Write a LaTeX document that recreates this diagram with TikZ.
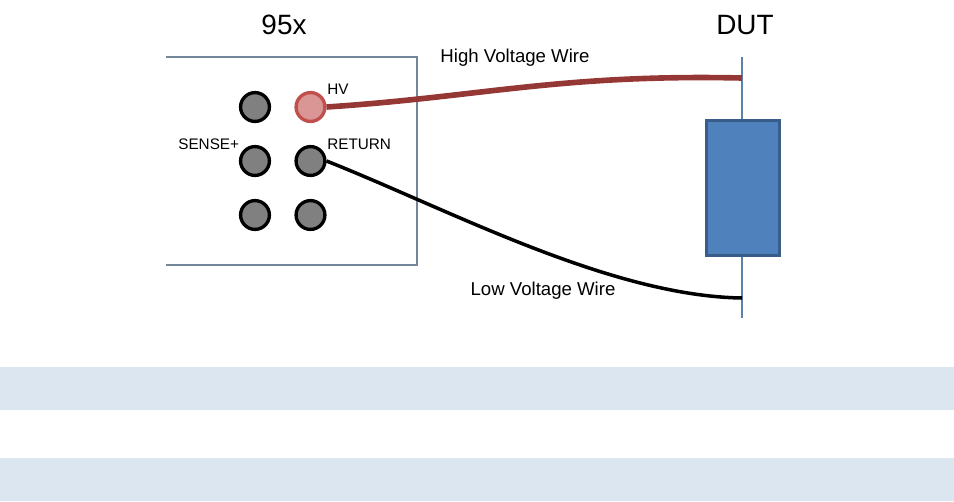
\documentclass[tikz,border=0pt]{standalone}
\usepackage{fontspec}
\setmainfont{Liberation Sans}
\definecolor{bandblue}{HTML}{DCE6F1}
\definecolor{panelline}{HTML}{75869A}
\definecolor{leadline}{HTML}{5F82A8}
\definecolor{wirered}{HTML}{953735}
\definecolor{hvfill}{HTML}{D99694}
\definecolor{hvedge}{HTML}{C0504D}
\definecolor{dutfill}{HTML}{4F81BD}
\definecolor{dutedge}{HTML}{385D8A}
\begin{document}
\begin{tikzpicture}[
    x=0.02cm,
    y=-0.02cm,
    jack/.style={
        draw=black,
        fill=black!50,
        circle,
        line width=1.9pt,
        minimum size=16.4pt,
        inner sep=0pt
    },
    hvjack/.style={
        jack,
        draw=hvedge,
        fill=hvfill
    },
    lbl/.style={inner sep=0pt, font=\fontsize{8.7}{10}\selectfont},
    wirelbl/.style={inner sep=0pt, font=\fontsize{10.6}{12}\selectfont},
    title/.style={inner sep=0pt, font=\fontsize{15.9}{18}\selectfont}
]
    \useasboundingbox (0,0) rectangle (954,501);

    % bands below the drawing
    \fill[bandblue] (0,367) rectangle (954,410);
    \fill[bandblue] (0,458) rectangle (954,501);

    % instrument panel, open on the left
    \coordinate (panelA) at (166,57);
    \coordinate (panelB) at (417,57);
    \coordinate (panelC) at (417,265);
    \coordinate (panelD) at (166,265);
    \draw[panelline, line width=0.65pt] (panelA) -- (panelB) -- (panelC) -- (panelD);

    \node[jack] (j11) at (255,107) {};
    \node[hvjack] (hv) at (310.5,107) {};
    \node[jack] (j21) at (255,161) {};
    \node[jack] (ret) at (310.5,161) {};
    \node[jack] (j31) at (255,215) {};
    \node[jack] (j32) at (310.5,215) {};

    % device under test
    \coordinate (leadtop) at (742,57);
    \coordinate (leadbot) at (742,318);
    \coordinate (hvend) at (742,78);
    \coordinate (lvend) at (742,298);
    \node[draw=dutedge, fill=dutfill, line width=1.7pt,
        minimum width=42pt, minimum height=77pt, inner sep=0pt] (dut) at (743,188) {};
    \draw[leadline, line width=0.6pt] (leadtop) -- (leadtop |- dut.north);
    \draw[leadline, line width=0.6pt] (leadbot |- dut.south) -- (leadbot);

    % wires
    \draw[wirered, line width=3.2pt] (hv.east) .. controls (480,97) and (560,74) .. (hvend);
    \draw[black, line width=2pt] (ret.east) .. controls (450,210) and (610,296) .. (lvend);

    % labels
    \node[title] (t95x) at (284,25) {95x};
    \node[title] (tdut) at (745,25) {DUT};
    \node[wirelbl] (hvw) at (515,58) {High Voltage Wire};
    \node[wirelbl] (lvw) at (543,291) {Low Voltage Wire};
    \node[lbl, anchor=west] (lhv) at (327,89) {HV};
    \node[lbl, anchor=west] (lret) at (327,144) {RETURN};
    \node[lbl, anchor=west] (lsense) at (178,144) {SENSE+};
\end{tikzpicture}
\end{document}
